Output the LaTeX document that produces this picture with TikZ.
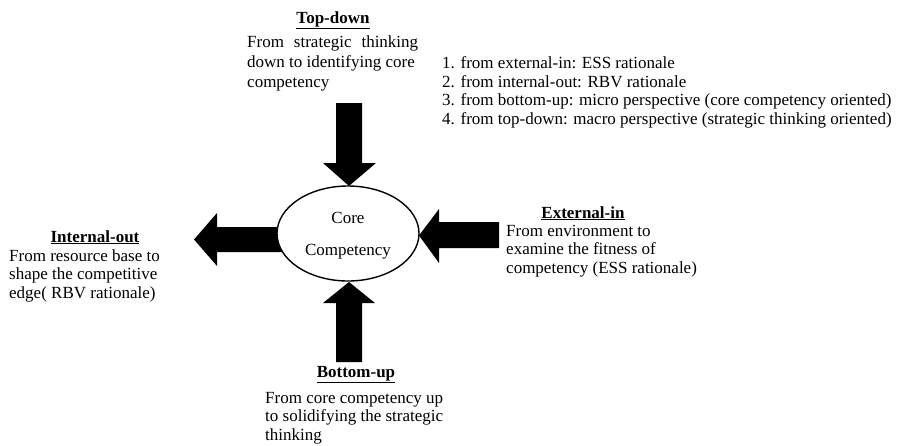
\documentclass[tikz,border=0pt]{standalone}
\usepackage{fontspec}
\setmainfont{Liberation Serif}
\usetikzlibrary{shapes.geometric}
\begin{document}
\begin{tikzpicture}[x=1pt,y=-1pt,
  txt/.style={inner sep=0pt, anchor=base west, align=left, font=\fontsize{17}{18.5}\selectfont},
  ttl/.style={inner sep=0pt, anchor=base, font=\fontsize{17}{18.5}\selectfont\bfseries},
  blockarrow/.style={fill=black, draw=none},
  coreshape/.style={ellipse, draw, line width=1.4pt, fill=white, minimum width=142pt, minimum height=95pt, inner sep=0pt}]
\useasboundingbox (0,0) rectangle (900,445);
% block arrows
\fill[blockarrow] (336,103) -- (362,103) -- (362,163) -- (376,163) -- (349,186) -- (323,163) -- (336,163) -- cycle;
\fill[blockarrow] (336,362) -- (362,362) -- (362,303) -- (375,303) -- (349,282) -- (323,303) -- (336,303) -- cycle;
\fill[blockarrow] (282,227) -- (217,227) -- (217,213) -- (194,239.5) -- (217,266) -- (217,252) -- (282,252) -- cycle;
\fill[blockarrow] (499,222) -- (439,222) -- (439,209) -- (419,235.5) -- (439,263) -- (439,248) -- (499,248) -- cycle;
% core
\node[coreshape] (core) at (348,233.5) {};
\node[ttl, font=\fontsize{17}{18.5}\selectfont] (corea) at (348,223) {Core};
\node[ttl, font=\fontsize{17}{18.5}\selectfont] (coreb) at (348,255) {Competency};
% top-down
\node[ttl] (tdt) at (333,23) {\underline{Top-down}};
\node[txt, font=\fontsize{17}{20}\selectfont] (tdx) at (247,87) {\makebox[171pt][s]{From strategic thinking}\\down to identifying core\\competency};
% list
\node[txt] (lst) at (442,124) {1. from external-in: ESS rationale\\2. from internal-out: RBV rationale\\3. from bottom-up: micro perspective (core competency oriented)\\4. from top-down: macro perspective (strategic thinking oriented)};
% internal-out
\node[ttl] (iot) at (95,242) {\underline{Internal-out}};
\node[txt] (iox) at (9,298) {From resource base to\\shape the competitive\\edge( RBV rationale)};
% external-in
\node[ttl] (eit) at (583,218) {\underline{External-in}};
\node[txt] (eix) at (506,273) {From environment to\\examine the fitness of\\competency (ESS rationale)};
% bottom-up
\node[ttl] (but) at (356,377) {\underline{Bottom-up}};
\node[txt] (bux) at (265,440) {From core competency up\\to solidifying the strategic\\thinking};
\end{tikzpicture}
\end{document}
